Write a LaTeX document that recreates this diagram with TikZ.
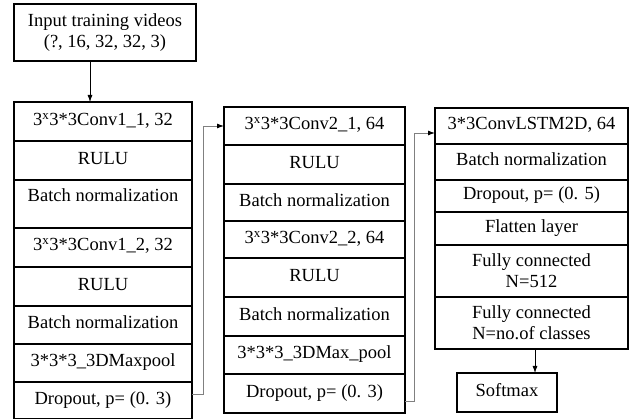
\documentclass[tikz,border=0pt]{standalone}
\usepackage{fontspec}
\setmainfont{Liberation Serif}
\usetikzlibrary{positioning,arrows.meta}

\begin{document}
\begin{tikzpicture}[
        x=1pt, y=-1pt,
        font=\fontsize{18.5}{21}\selectfont,
        layer/.style = {draw, line width=1.4pt, outer sep=0pt, inner sep=0pt, align=center}, % box of one layer
        row/.style = {layer, text height=12pt, text depth=4pt}, % one line of text
        colA/.style = {row, minimum width=178pt},
        colB/.style = {row, minimum width=181pt},
        colC/.style = {row, minimum width=193pt},
        link/.style = {draw=gray, line width=0.9pt, -{Latex[black, length=7pt, width=5pt]}},
        flow/.style = {draw=black, line width=0.8pt, -{Latex[length=7pt, width=5pt]}},
    ]
    \useasboundingbox (0,0) rectangle (630,419);

    % input
    \node[layer, minimum width=182pt, minimum height=57pt, anchor=north west] (inp) at (14,4)
        {Input training videos\\(?, 16, 32, 32, 3)};

    % first block
    \node[colA, minimum height=39pt, anchor=north west] (c1a) at (14,102) {3\textsuperscript{x}3*3Conv1\_1, 32};
    \node[colA, minimum height=39pt, below=0pt of c1a] (c1b) {RULU};
    \node[colA, minimum height=48pt, text depth=17pt, below=0pt of c1b] (c1c) {Batch normalization};
    \node[colA, minimum height=39pt, text depth=6pt, below=0pt of c1c] (c1d) {3\textsuperscript{x}3*3Conv1\_2, 32};
    \node[colA, minimum height=39pt, below=0pt of c1d] (c1e) {RULU};
    \node[colA, minimum height=38pt, below=0pt of c1e] (c1f) {Batch normalization};
    \node[colA, minimum height=38pt, below=0pt of c1f] (c1g) {3*3*3\_3DMaxpool};
    \node[colA, minimum height=37pt, below=0pt of c1g] (c1h) {Dropout, p= (0. 3)};

    % second block
    \node[colB, minimum height=38pt, anchor=north west] (c2a) at (224,107) {3\textsuperscript{x}3*3Conv2\_1, 64};
    \node[colB, minimum height=39pt, below=0pt of c2a] (c2b) {RULU};
    \node[colB, minimum height=37pt, below=0pt of c2b] (c2c) {Batch normalization};
    \node[colB, minimum height=37pt, below=0pt of c2c] (c2d) {3\textsuperscript{x}3*3Conv2\_2, 64};
    \node[colB, minimum height=39pt, below=0pt of c2d] (c2e) {RULU};
    \node[colB, minimum height=39pt, below=0pt of c2e] (c2f) {Batch normalization};
    \node[colB, minimum height=38pt, below=0pt of c2f] (c2g) {3*3*3\_3DMax\_pool};
    \node[colB, minimum height=39pt, below=0pt of c2g] (c2h) {Dropout, p= (0. 3)};

    % third block
    \node[colC, minimum height=36pt, anchor=north west] (c3a) at (435,108) {3*3ConvLSTM2D, 64};
    \node[colC, minimum height=36pt, below=0pt of c3a] (c3b) {Batch normalization};
    \node[colC, minimum height=32pt, below=0pt of c3b] (c3c) {Dropout, p= (0. 5)};
    \node[colC, minimum height=33pt, below=0pt of c3c] (c3d) {Flatten layer};
    \node[layer, minimum width=193pt, minimum height=52pt, below=0pt of c3d] (c3e) {Fully connected\\N=512};
    \node[layer, minimum width=193pt, minimum height=52pt, below=0pt of c3e] (c3f) {Fully connected\\N=no.of classes};

    \node[row, minimum width=100pt, minimum height=39pt, anchor=north west] (soft) at (457,373) {Softmax};

    % connectors
    \draw[flow] ([xshift=-15pt]inp.south) -- ([xshift=-13pt]c1a.north);
    \draw[link] ([yshift=6pt]c1h.east) -- ++(11,0) |- (c2a.west);
    \draw[link] ([yshift=-8pt]c2h.east) -- ++(9,0) |- ([yshift=-7pt]c3a.west);
    \draw[flow] ([xshift=3.5pt]c3f.south) -- ([xshift=28pt]soft.north);

\end{tikzpicture}
\end{document}
